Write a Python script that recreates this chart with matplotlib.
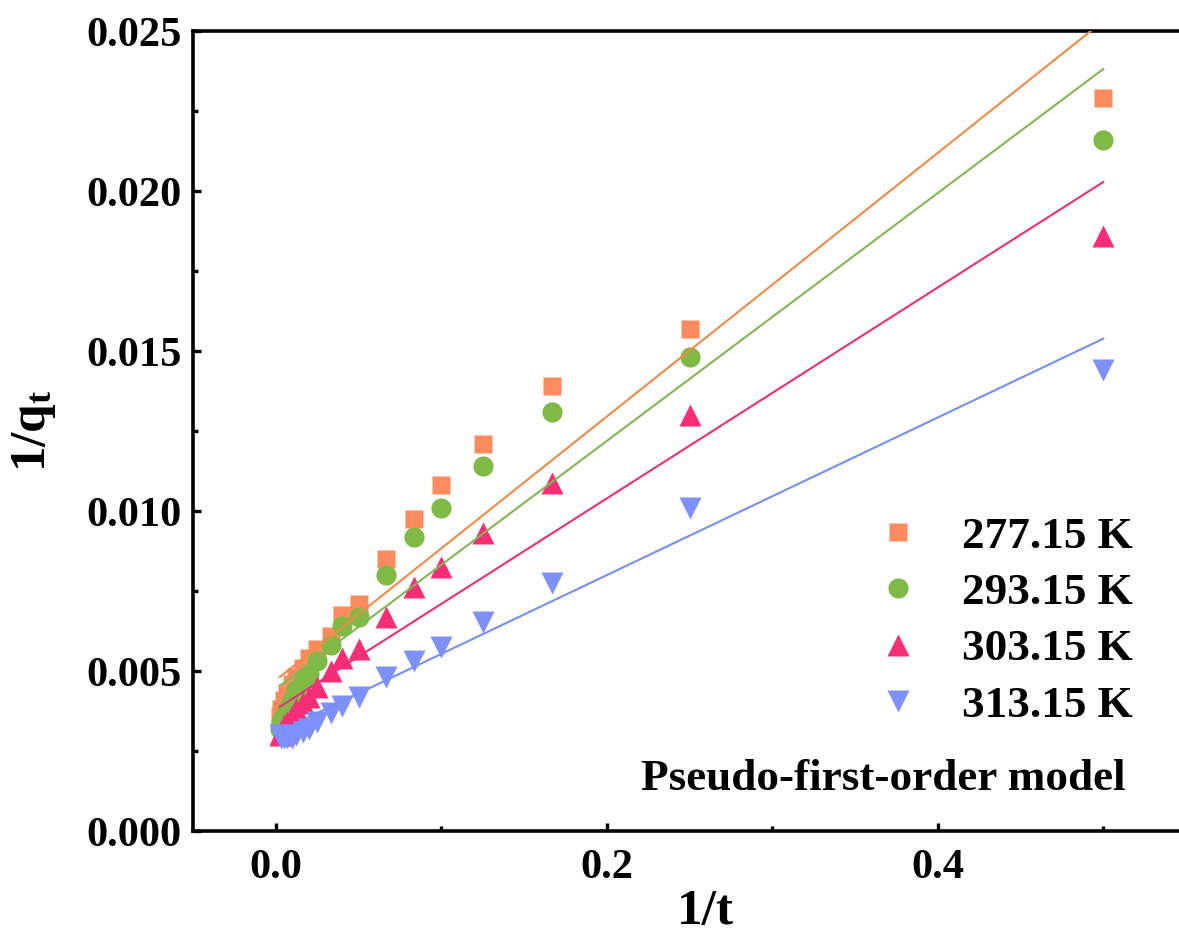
# -*- coding: utf-8 -*-
"""
Pseudo-first-order kinetics, linearised: 1/q_t vs 1/t at four temperatures.
"""

# %% imports

import numpy as np
from matplotlib import pyplot as plt
from matplotlib.ticker import MultipleLocator

# %% data

inv_t = [0.5, 0.25, 0.1667, 0.125, 0.1, 0.0833, 0.0667, 0.05, 0.04, 0.0333,
         0.025, 0.02, 0.0167, 0.0125, 0.01, 0.0067, 0.005, 0.0033, 0.0025]

inv_q_277 = [0.0229, 0.0157, 0.0139, 0.0121, 0.0108, 0.00975, 0.0085, 0.0071, 0.00675, 0.0061,
             0.0057, 0.0054, 0.0051, 0.0048, 0.0046, 0.0043, 0.0041, 0.0038, 0.0036]
inv_q_293 = [0.0216, 0.0148, 0.0131, 0.0114, 0.0101, 0.0092, 0.0080, 0.0067, 0.0064, 0.0058,
             0.0053, 0.0049, 0.0047, 0.0044, 0.0041, 0.0038, 0.0036, 0.0034, 0.0032]
inv_q_303 = [0.0186, 0.0130, 0.01088, 0.0093, 0.00825, 0.00763, 0.0067, 0.0057, 0.0054, 0.0050,
             0.0045, 0.0042, 0.0040, 0.0038, 0.0036, 0.0034, 0.0033, 0.0031, 0.0030]
inv_q_313 = [0.0144, 0.0101, 0.00775, 0.00653, 0.00575, 0.0053, 0.0048, 0.0042, 0.0039, 0.0037,
             0.0034, 0.0032, 0.0031, 0.0030, 0.0029, 0.0029, 0.0029, 0.0029, 0.0030]

labels = ['277.15 K', '293.15 K', '303.15 K', '313.15 K']

# linear fits: 1/q = slope * (1/t) + intercept
fit_slope = [0.0412, 0.03874, 0.03296, 0.02463]
fit_intercept = [0.00471, 0.00444, 0.0038, 0.00307]
fit_start = [0.0024, 0.0024, 0.0024, 0.0125]
fit_end = 0.5

# %% style

marker_col = ['#FC8C5E', '#80BA46', '#F72D78', '#7D90FB']
line_col = ['#F28A45', '#82B752', '#EA2F7A', '#7390F2']
markers = ['s', 'o', '^', 'v']
msizes = [12.5, 14.5, 15.5, 15.5]

plt.rcParams['font.family'] = 'serif'
plt.rcParams['font.serif'] = ['Liberation Serif', 'DejaVu Serif']
plt.rcParams['font.weight'] = 'bold'
plt.rcParams['mathtext.fontset'] = 'custom'
plt.rcParams['mathtext.rm'] = 'Liberation Serif:bold'
plt.rcParams['mathtext.default'] = 'rm'

# %% plot

fig = plt.figure(figsize=(11.79, 9.35), dpi=100)
ax = fig.add_axes([193 / 1179, 1 - 831 / 935, (1186 - 193) / 1179, 800 / 935])

series = [inv_q_277, inv_q_293, inv_q_303, inv_q_313]
for i, ys in enumerate(series):
    ax.plot(inv_t, ys, ls='none', marker=markers[i], ms=msizes[i],
            color=marker_col[i], mec='none', label=labels[i], zorder=2 + i)

for i in range(4):
    xs = np.array([fit_start[i], fit_end])
    ax.plot(xs, fit_slope[i] * xs + fit_intercept[i], color=line_col[i], lw=1.5, zorder=10)

ax.set_xlim(-0.05, 0.55)
ax.set_ylim(0, 0.025)
ax.xaxis.set_major_locator(MultipleLocator(0.2))
ax.xaxis.set_minor_locator(MultipleLocator(0.1))
ax.yaxis.set_major_locator(MultipleLocator(0.005))
ax.yaxis.set_minor_locator(MultipleLocator(0.0025))
ax.xaxis.set_major_formatter(lambda v, p: f'{v:.1f}')
ax.yaxis.set_major_formatter(lambda v, p: f'{v:.3f}')

for s in ax.spines.values():
    s.set_linewidth(2.6)
ax.tick_params(which='both', direction='in', width=2.4, labelsize=30.5, top=False, right=False)
ax.tick_params(which='major', length=6)
ax.tick_params(which='minor', length=3.5)
ax.tick_params(axis='x', pad=13)
ax.tick_params(axis='y', pad=8)

ax.set_xlabel('1/t', fontsize=37, fontweight='bold')
ax.set_ylabel(r'1/q$_{t}$', fontsize=37, fontweight='bold')
ax.xaxis.set_label_coords((705 - 193) / (1186 - 193), -0.073)
ax.yaxis.set_label_coords(-(193 - 58) / (1186 - 193), 0.5)

leg = ax.legend(loc='upper left', bbox_to_anchor=(875 / 1179, 1 - 516 / 935),
                bbox_transform=fig.transFigure, frameon=False, fontsize=32.5,
                handlelength=1.0, handletextpad=0.92, labelspacing=0.35, borderpad=0,
                borderaxespad=0)

ax.text(0.9386, 0.05125, 'Pseudo-first-order model', transform=ax.transAxes,
        ha='right', va='baseline', fontsize=32.5, fontweight='bold')

plt.savefig('out.png', dpi=100)
